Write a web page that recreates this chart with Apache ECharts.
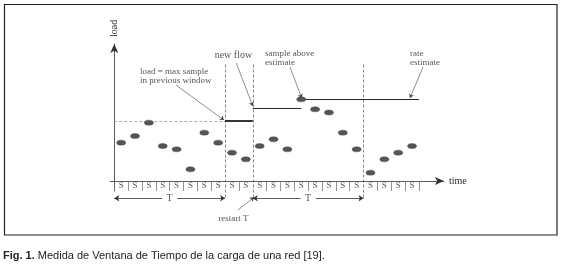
<!DOCTYPE html>
<html>
<head>
<meta charset="utf-8">
<script src="https://cdn.jsdelivr.net/npm/echarts@6/dist/echarts.min.js"></script>
<style>
html,body{margin:0;padding:0;background:#fff;}
#c{width:561px;height:272px;}
</style>
</head>
<body>
<div id="c"></div>
<script>
// ---- data ----
const slotLabels = ['S','S','S','S','S','S','S','S','S','S','S','S','S','S','S','S','S','S','S','S','S','S'];
const sampleLoad = [28.0, 32.8, 42.6, 25.5, 23.1, 8.5, 35.3, 28.0, 20.7, 15.8, 25.5, 30.4, 23.1, 59.6, 52.3, 50.0, 35.3, 23.1, 6.1, 15.8, 20.7, 25.5];
const windowBounds = [8, 10, 18];
const windowsT = [[0, 8], [10, 18]];
const prevWindowMax = [0, 8, 43.8];
const heldLoad = [8, 10, 43.8];
const newFlowEstimate = [10, 13.5, 52.9];
const rateEstimate = [13.5, 22, 59.9];
const annotationTexts = ['new flow', 'load = max sample\nin previous window', 'sample above\nestimate', 'rate\nestimate', 'restart T'];
const annotationAnchors = [[8.6, 92], [1.86, 76.6], [10.88, 89.8], [21.35, 89.8], [8.6, -27.7]];
const annotationArrows = [
  [[8.81, 86.1], [10.0, 54.7]],
  [[4.45, 70.1], [7.92, 44.5]],
  [[12.69, 83.2], [13.53, 60.6]],
  [[22.29, 83.2], [21.35, 60.6]],
  [[8.93, -21.2], [10.09, -11.9]]
];
const tLevel = -12.6;
const slotTickBottom = -7.3;
const windowLineTop = 85;

const serif = 'Liberation Serif';
const ink = '#2a2a2a';

const chart = echarts.init(document.getElementById('c'), null, {renderer: 'canvas'});

const dividers = slotLabels.map((s, i) => i).concat([slotLabels.length])
  .filter(x => windowBounds.indexOf(x) < 0)
  .map(x => ({coords: [[x, 0], [x, slotTickBottom]]}));

const tSegments = [];
windowsT.forEach(w => {
  const mid = (w[0] + w[1]) / 2;
  tSegments.push({coords: [[mid - 0.55, tLevel], [w[0], tLevel]]});
  tSegments.push({coords: [[mid + 0.55, tLevel], [w[1], tLevel]]});
});

const option = {
  animation: false,
  grid: {left: 110.1, top: 44, width: 333.8, height: 147},
  xAxis: {
    type: 'value', min: -0.3, max: 23.8,
    axisLine: {show: true, onZero: true, symbol: ['none', 'arrow'], symbolSize: [6, 9], lineStyle: {color: '#333', width: 0.8}},
    axisTick: {show: false}, axisLabel: {show: false}, splitLine: {show: false},
    name: 'time', nameLocation: 'end', nameGap: 5,
    nameTextStyle: {fontFamily: serif, fontSize: 10, color: ink}
  },
  yAxis: {
    type: 'value', min: slotTickBottom, max: 100,
    axisLine: {show: true, onZero: true, symbol: ['none', 'arrow'], symbolSize: [6, 9], lineStyle: {color: '#333', width: 0.8}},
    axisTick: {show: false}, axisLabel: {show: false}, splitLine: {show: false},
    name: 'load', nameLocation: 'end', nameRotate: 90, nameGap: 7,
    nameTextStyle: {fontFamily: serif, fontSize: 10, color: ink}
  },
  series: [
    {
      type: 'lines', coordinateSystem: 'cartesian2d', clip: false, silent: true,
      lineStyle: {color: '#666', width: 0.7, opacity: 1}, symbol: 'none',
      data: dividers
    },
    {
      type: 'lines', coordinateSystem: 'cartesian2d', clip: false, silent: true,
      lineStyle: {color: '#555', width: 0.7, type: [3, 2], opacity: 1}, symbol: 'none',
      data: windowBounds.map(x => ({coords: [[x, windowLineTop], [x, tLevel]]}))
    },
    {
      type: 'lines', coordinateSystem: 'cartesian2d', clip: false, silent: true,
      lineStyle: {color: '#999', width: 0.8, type: [3, 2], opacity: 1}, symbol: 'none',
      data: [{coords: [[prevWindowMax[0], prevWindowMax[2]], [prevWindowMax[1], prevWindowMax[2]]]}]
    },
    {
      type: 'lines', coordinateSystem: 'cartesian2d', clip: false, silent: true,
      lineStyle: {color: '#000', width: 1.6, opacity: 1}, symbol: 'none',
      data: [{coords: [[heldLoad[0], heldLoad[2]], [heldLoad[1], heldLoad[2]]]}]
    },
    {
      type: 'lines', coordinateSystem: 'cartesian2d', clip: false, silent: true,
      lineStyle: {color: '#111', width: 0.9, opacity: 1}, symbol: 'none',
      data: [
        {coords: [[newFlowEstimate[0], newFlowEstimate[2]], [newFlowEstimate[1], newFlowEstimate[2]]]},
        {coords: [[rateEstimate[0], rateEstimate[2]], [rateEstimate[1], rateEstimate[2]]]}
      ]
    },
    {
      type: 'lines', coordinateSystem: 'cartesian2d', clip: false, silent: true,
      lineStyle: {color: '#333', width: 0.8, opacity: 1}, symbol: ['none', 'arrow'], symbolSize: 5,
      data: tSegments
    },
    {
      type: 'lines', coordinateSystem: 'cartesian2d', clip: false, silent: true,
      lineStyle: {color: '#444', width: 0.6, opacity: 1}, symbol: ['none', 'arrow'], symbolSize: 4,
      data: annotationArrows.map(a => ({coords: a}))
    },
    {
      type: 'scatter', clip: false, silent: true,
      symbol: 'circle', symbolSize: [9, 5],
      itemStyle: {color: '#555', borderColor: '#3a3a3a', borderWidth: 0.4, opacity: 1},
      data: sampleLoad.map((v, i) => [i + 0.5, v]),
      z: 5
    },
    {
      type: 'scatter', clip: false, silent: true, symbolSize: 0,
      label: {show: true, position: 'inside', formatter: p => p.data[2], fontFamily: serif, fontSize: 9, color: ink},
      data: slotLabels.map((s, i) => [i + 0.5, -3.7, s])
    },
    {
      type: 'scatter', clip: false, silent: true, symbolSize: 0,
      label: {show: true, position: 'inside', formatter: 'T', fontFamily: serif, fontSize: 10, color: ink},
      data: windowsT.map(w => [(w[0] + w[1]) / 2, tLevel])
    },
    {
      type: 'scatter', clip: false, silent: true, symbolSize: 0,
      data: annotationTexts.map((t, i) => ({
        value: annotationAnchors[i],
        label: {
          show: true, position: 'inside', formatter: t,
          align: (i === 1 || i === 2 || i === 3) ? 'left' : 'center',
          fontFamily: serif, fontSize: i === 0 ? 10 : 9, lineHeight: 9.5, color: ink
        }
      }))
    }
  ],
  graphic: [
    {type: 'rect', shape: {x: 4.5, y: 4.5, width: 552.5, height: 230.5}, style: {fill: 'none', stroke: '#222', lineWidth: 1.2}, silent: true},
    {type: 'text', x: 3, y: 256, style: {
      text: '{b|Fig. 1.} Medida de Ventana de Tiempo de la carga de una red [19].',
      rich: {b: {fontFamily: 'Liberation Sans', fontSize: 11, fontWeight: 'bold', fill: '#222'}},
      fontFamily: 'Liberation Sans', fontSize: 11, fill: '#222', verticalAlign: 'middle'
    }}
  ]
};
chart.setOption(option);
</script>
</body>
</html>
